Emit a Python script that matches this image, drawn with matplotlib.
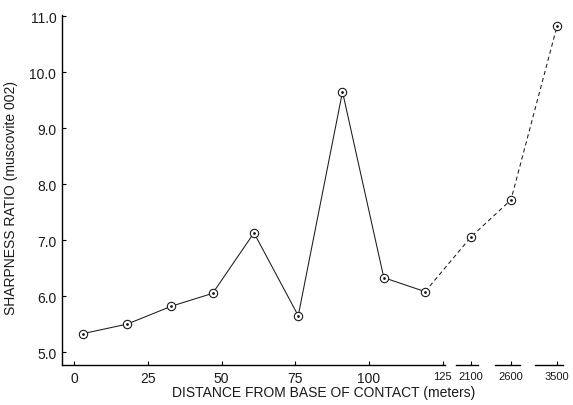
import matplotlib.pyplot as plt
plt.rcParams['font.family'] = ['Liberation Sans', 'DejaVu Sans']

# distances (m) and sharpness ratios
near_dist = [3, 18, 33, 47, 61, 76, 91, 105, 119]
near_ratio = [5.33, 5.50, 5.82, 6.05, 7.13, 5.65, 9.65, 6.33, 6.08]
far_labels = ['2100', '2600', '3500']
far_ratio = [7.06, 7.72, 10.82]

near_ticks = [0, 25, 50, 75, 100, 125]
y_ticks = [5.0, 6.0, 7.0, 8.0, 9.0, 10.0, 11.0]

# the far points sit on a broken axis, placed after 125 on the drawn scale
far_pos = [134.6, 148.1, 163.7]
gaps = [(-4.1, 125.8), (129.5, 137.0), (142.7, 151.2), (156.3, 165.8)]

fig = plt.figure(figsize=(5.73, 4.06), dpi=100)
ax = fig.add_axes([0.108, 0.0985, 0.878, 0.862])

ink = '#1a1a1a'
ax.plot(near_dist, near_ratio, color=ink, lw=0.75)
ax.plot([near_dist[-1]] + far_pos, [near_ratio[-1]] + far_ratio,
        color=ink, lw=0.75, ls=(0, (4, 3)))
all_x = near_dist + far_pos
all_y = near_ratio + far_ratio
ax.plot(all_x, all_y, 'o', ms=6, mfc='white', mec=ink, mew=0.8)
ax.plot(all_x, all_y, '.', ms=2, color=ink)

ax.set_xlim(-4.1, 166.4)
ax.set_ylim(4.77, 11.02)

for s in ['top', 'right', 'bottom']:
    ax.spines[s].set_visible(False)
ax.spines['left'].set_linewidth(1.0)
for a, b in gaps:
    ax.plot([a, b], [0, 0], color='black', lw=1.0, transform=ax.get_xaxis_transform(),
            clip_on=False)

ax.set_yticks(y_ticks)
ax.set_yticklabels(['%.1f' % v for v in y_ticks], fontsize=10, color=ink)
ax.set_xticks(near_ticks + far_pos)
ax.set_xticklabels([str(t) for t in near_ticks[:-1]] + ['125'] + far_labels,
                   fontsize=10, color=ink)
for lab in ax.get_xticklabels()[5:]:
    lab.set_fontsize(8)
ax.tick_params(direction='in', length=3, width=0.8, pad=4)

ax.set_xlabel('DISTANCE FROM BASE OF CONTACT (meters)', fontsize=10, color=ink)
ax.xaxis.set_label_coords(0.52, -0.056)
ax.set_ylabel('SHARPNESS RATIO (muscovite 002)', fontsize=10, color=ink)
ax.yaxis.set_label_coords(-0.088, 0.48)

fig.savefig('out.png', dpi=100)
